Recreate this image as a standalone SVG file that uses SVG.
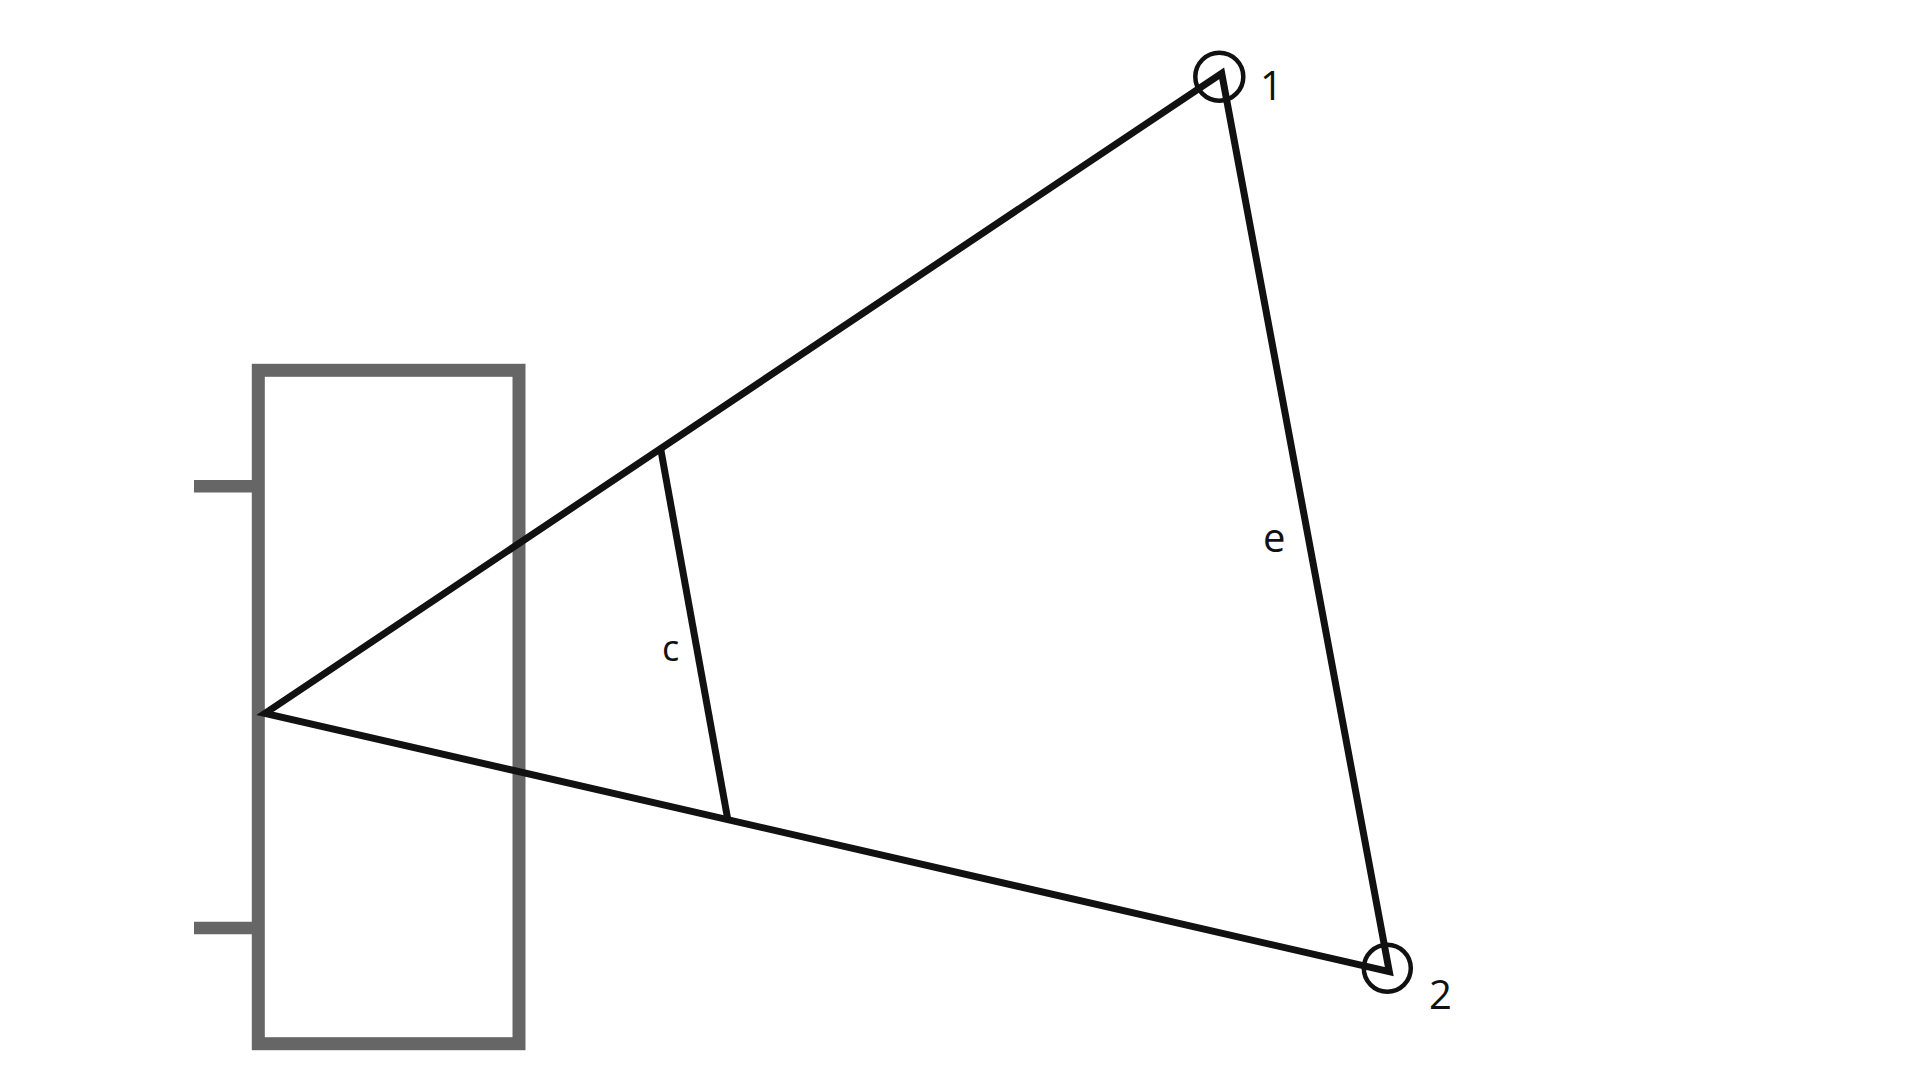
<svg xmlns="http://www.w3.org/2000/svg" width="1920" height="1080" viewBox="0 0 1920 1080">
<style>
.box{fill:none;stroke:#666666;stroke-width:13}
.stub{stroke:#666666;stroke-width:12.5}
.ln{fill:none;stroke:#111111;stroke-width:7;stroke-linejoin:miter;stroke-miterlimit:20}
.ring{fill:none;stroke:#111111;stroke-width:4.5}
.lbl{font-family:"Open Sans","Noto Sans",sans-serif;fill:#111111}
</style>
<rect width="1920" height="1080" fill="#ffffff"/>
<g id="block">
<rect class="box" x="258.3" y="370.3" width="260.7" height="673.4"/>
<line class="stub" x1="194" y1="486.3" x2="252" y2="486.3"/>
<line class="stub" x1="194" y1="928" x2="252" y2="928"/>
</g>
<g id="connectors">
<polygon class="ln" points="265,713.3 1221.7,73.3 1389.3,971.7"/>
<line class="ln" x1="660.7" y1="449" x2="727.7" y2="819"/>
</g>
<g id="point1">
<circle class="ring" cx="1219.3" cy="76.7" r="24"/>
<text class="lbl" x="1260" y="100" font-size="40">1</text>
</g>
<g id="point2">
<circle class="ring" cx="1387.3" cy="968.3" r="23.5"/>
<text class="lbl" x="1429" y="1009" font-size="40">2</text>
</g>
<g id="label-c">
<text class="lbl" x="662" y="661" font-size="36">c</text>
</g>
<g id="label-e">
<text class="lbl" x="1263" y="551.7" font-size="40">e</text>
</g>
</svg>
